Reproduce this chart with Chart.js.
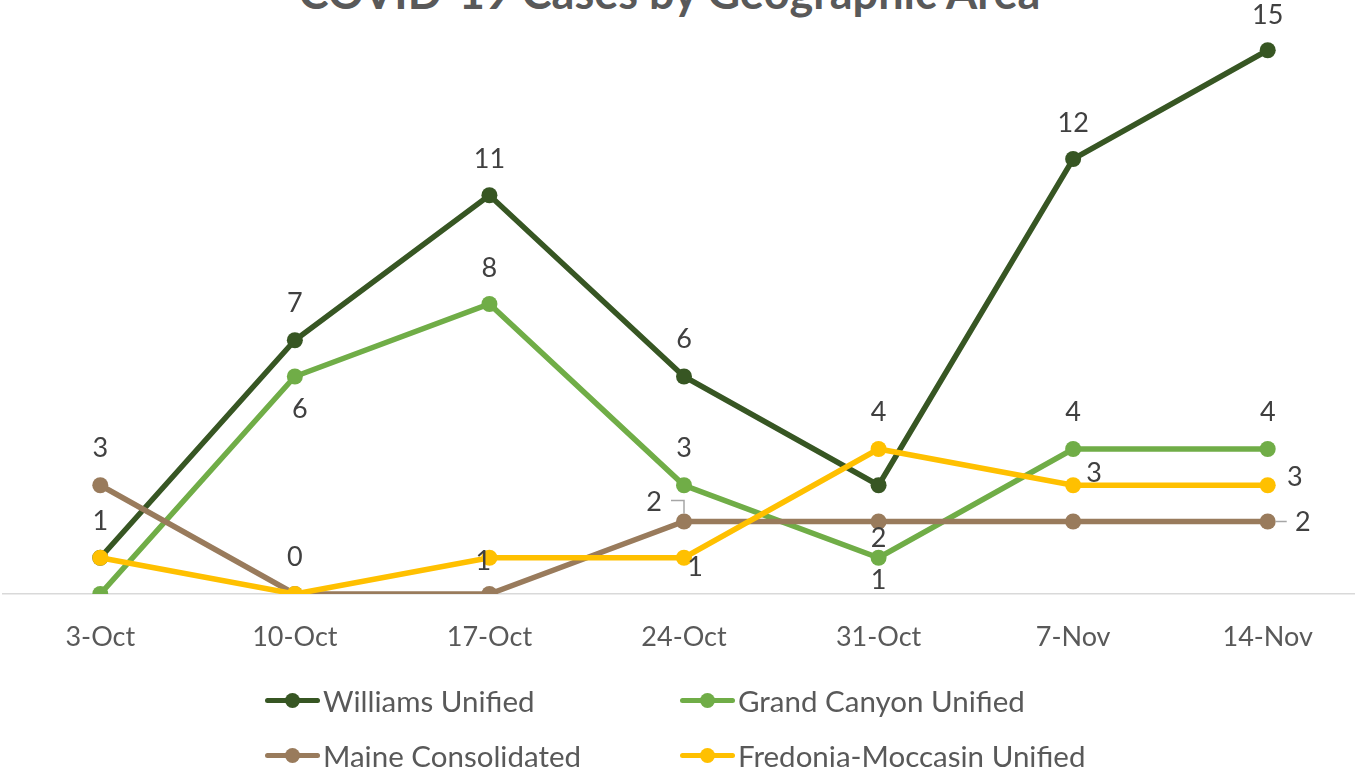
<!DOCTYPE html>
<html>
<head>
<meta charset="utf-8">
<script src="https://cdn.jsdelivr.net/npm/chart.js@4"></script>
<style>
  body { margin: 0; overflow: hidden; background: #fff; font-family: Lato, sans-serif; }
  #title { position: absolute; left: -8px; width: 1355px; top: -30px; text-align: center;
           font: bold 45px/45px Lato, sans-serif; color: #595959; white-space: nowrap; }
  #wrap { position: absolute; left: -5px; top: 0; width: 1378px; height: 779px; }
  .item { position: absolute; display: flex; align-items: center; font-size: 29.5px; color: #595959; white-space: nowrap; }
  .mark { position: relative; width: 55px; height: 5px; margin-right: 3px; border-radius: 3px; }
  .mark::after { content: ''; position: absolute; left: 20px; top: -5px; width: 15px; height: 15px;
                 border-radius: 50%; background: inherit; }
</style>
</head>
<body>
<div id="title">COVID-19 Cases by Geographic Area</div>
<div id="wrap"><canvas id="casesChart"></canvas></div>
<div id="legend"></div>
<script>
const weeks = ['3-Oct', '10-Oct', '17-Oct', '24-Oct', '31-Oct', '7-Nov', '14-Nov'];
const williams = [1, 7, 11, 6, 3, 12, 15];
const grandCanyon = [0, 6, 8, 3, 1, 4, 4];
const maine = [3, 0, 0, 2, 2, 2, 2];
const fredonia = [1, 0, 1, 1, 4, 3, 3];

// where each value label sits, relative to its point (null = not shown)
const williamsLabels = [[0, -36], [0, -37], [0, -36], [0, -37], null, [0, -36], [0, -35]];
const grandCanyonLabels = [null, [5, 33], [0, -36], [0, -37], [0, 23], [0, -37], [0, -37]];
const maineLabels = [[0, -37], [0, -37], null, [-30, -19], [0, 17], null, [35, 1]];
const fredoniaLabels = [null, null, [-6, 4], [11, 10], [0, -37], [21, -12], [27, -8]];
const maineLeaders = [null, null, null, [[-13, -21], [0, -21], [0, -8]], null, null, [[8, 0], [19, 0]]];

const series = [
  { label: 'Williams Unified', data: williams, color: '#375623', labels: williamsLabels, order: 4 },
  { label: 'Grand Canyon Unified', data: grandCanyon, color: '#70AD47', labels: grandCanyonLabels, order: 3 },
  { label: 'Maine Consolidated', data: maine, color: '#997B5C', labels: maineLabels, leaders: maineLeaders, order: 2 },
  { label: 'Fredonia-Moccasin Unified', data: fredonia, color: '#FFC000', labels: fredoniaLabels, order: 1 }
];

const valueLabels = {
  id: 'valueLabels',
  afterDatasetsDraw(chart) {
    const c = chart.ctx;
    c.save();
    c.font = '27px Lato';
    c.fillStyle = '#404040';
    c.textAlign = 'center';
    c.textBaseline = 'middle';
    chart.data.datasets.forEach((ds, di) => {
      const meta = chart.getDatasetMeta(di);
      meta.data.forEach((pt, i) => {
        const lead = ds.leaders && ds.leaders[i];
        if (lead) {
          c.strokeStyle = '#a6a6a6';
          c.lineWidth = 1.5;
          c.beginPath();
          lead.forEach(([dx, dy], k) => k ? c.lineTo(pt.x + dx, pt.y + dy) : c.moveTo(pt.x + dx, pt.y + dy));
          c.stroke();
        }
        const off = ds.valueLabels[i];
        if (!off) return;
        c.fillText(String(ds.data[i]), pt.x + off[0], pt.y + off[1]);
      });
    });
    c.restore();
  }
};

new Chart(document.getElementById('casesChart').getContext('2d'), {
  type: 'line',
  data: {
    labels: weeks,
    datasets: series.map(s => ({
      label: s.label,
      data: s.data,
      borderColor: s.color,
      backgroundColor: s.color,
      pointBackgroundColor: s.color,
      pointBorderColor: s.color,
      borderWidth: 5.5,
      pointRadius: 8,
      pointBorderWidth: 0,
      tension: 0,
      order: s.order,
      valueLabels: s.labels,
      leaders: s.leaders
    }))
  },
  options: {
    responsive: true,
    maintainAspectRatio: false,
    animation: false,
    layout: { padding: { left: 3, right: 5, top: 14, bottom: 0 } },
    plugins: { legend: { display: false }, tooltip: { enabled: false }, title: { display: false } },
    scales: {
      x: {
        offset: true,
        grid: { display: false, drawTicks: false },
        border: { display: true, color: '#d9d9d9', width: 1.5 },
        ticks: { color: '#595959', font: { family: 'Lato', size: 27 }, padding: 27 },
        afterFit: s => { s.height = 185; }
      },
      y: { display: false, min: 0, max: 16 }
    }
  },
  plugins: [valueLabels]
});

const legendSpots = [[265, 700], [680, 700], [265, 755], [680, 755]];
const legend = document.getElementById('legend');
series.forEach((s, i) => {
  const item = document.createElement('div');
  item.className = 'item';
  item.style.left = legendSpots[i][0] + 'px';
  item.style.top = (legendSpots[i][1] - 18) + 'px';
  item.style.height = '36px';
  const mark = document.createElement('span');
  mark.className = 'mark';
  mark.style.background = s.color;
  item.appendChild(mark);
  item.appendChild(document.createTextNode(s.label));
  legend.appendChild(item);
});
</script>
</body>
</html>
